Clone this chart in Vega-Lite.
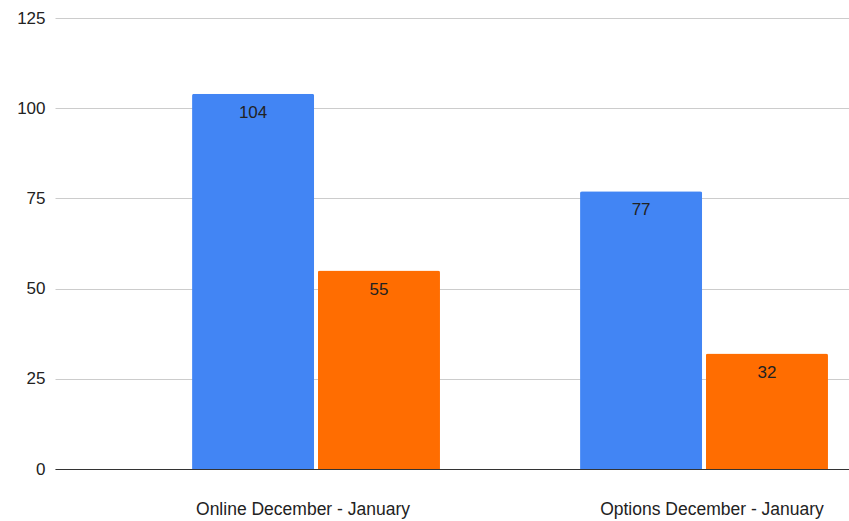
{
  "$schema": "https://vega.github.io/schema/vega-lite/v6.json",
  "width": 794,
  "height": 451,
  "autosize": {"type": "none"},
  "padding": {"left": 55, "top": 18, "right": 0, "bottom": 52},
  "background": "white",
  "data": {
    "values": [
      {"category": "Online December - January", "series": "Series 1", "value": 104},
      {"category": "Online December - January", "series": "Series 2", "value": 55},
      {"category": "Options December - January", "series": "Series 1", "value": 77},
      {"category": "Options December - January", "series": "Series 2", "value": 32}
    ]
  },
  "encoding": {
    "x": {
      "field": "category",
      "type": "nominal",
      "sort": null,
      "scale": {"paddingInner": 0.361, "paddingOuter": 0.2037, "align": 0.867},
      "axis": {
        "title": null,
        "labelAngle": 0,
        "labelLimit": 0,
        "ticks": false,
        "domain": true,
        "domainColor": "#333333",
        "domainWidth": 1,
        "labelPadding": 31,
        "labelFontSize": 17.5,
        "labelFont": "Liberation Sans",
        "labelColor": "#222222",
        "labelOffset": {"condition": {"test": "datum.value == 'Online December - January'", "value": -13}, "value": 8}
      }
    },
    "xOffset": {"field": "series", "type": "nominal", "sort": null, "scale": {"paddingInner": 0.03, "paddingOuter": 0}},
    "y": {
      "field": "value",
      "type": "quantitative",
      "scale": {"domain": [0, 125], "nice": false},
      "axis": {
        "title": null,
        "values": [0, 25, 50, 75, 100, 125],
        "grid": true,
        "gridColor": "#cccccc",
        "gridWidth": 1,
        "domain": false,
        "ticks": false,
        "labelPadding": 10,
        "labelFontSize": 17,
        "labelFont": "Liberation Sans",
        "labelColor": "#222222"
      }
    }
  },
  "layer": [
    {
      "mark": {"type": "bar", "cornerRadiusTopLeft": 2, "cornerRadiusTopRight": 2},
      "encoding": {
        "color": {"field": "series", "type": "nominal", "scale": {"range": ["#4285F4", "#FF6D01"]}, "legend": null}
      }
    },
    {
      "mark": {"type": "text", "baseline": "middle", "dy": 19, "fontSize": 17, "font": "Liberation Sans", "color": "#222222"},
      "encoding": {"text": {"field": "value", "type": "quantitative"}}
    }
  ],
  "config": {"view": {"stroke": null}}
}
